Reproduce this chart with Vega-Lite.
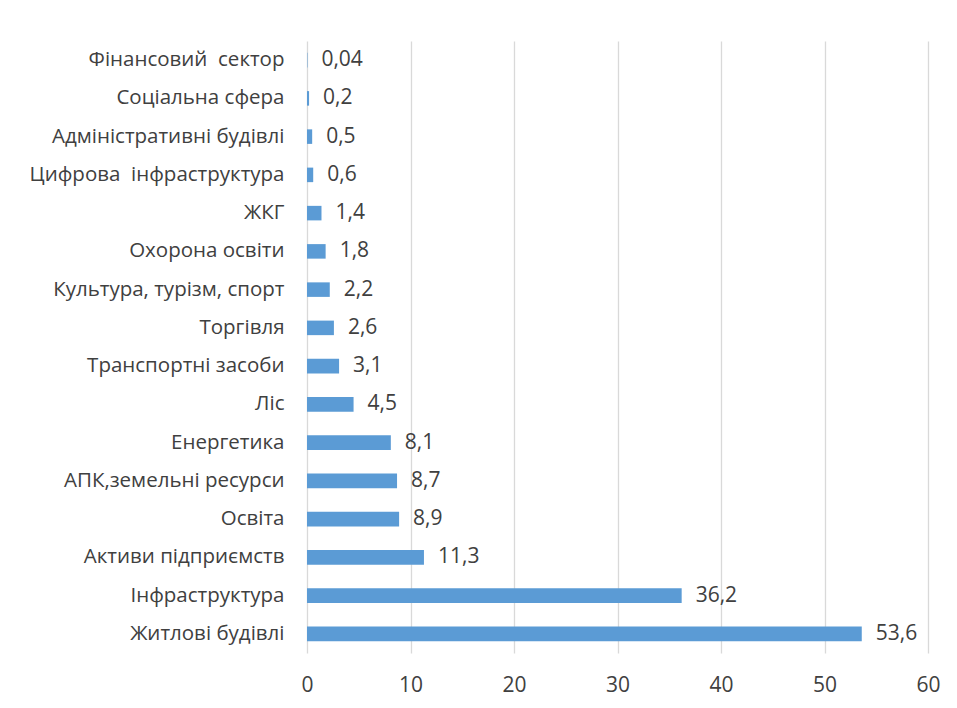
{
  "$schema": "https://vega.github.io/schema/vega-lite/v6.json",
  "width": 621,
  "height": 612,
  "autosize": "none",
  "padding": {"left": 307, "top": 41, "right": 29, "bottom": 55},
  "background": "white",
  "config": {
    "locale": {"number": {"decimal": ",", "thousands": " ", "grouping": [3], "currency": ["", ""]}},
    "view": {"stroke": null},
    "font": "Open Sans"
  },
  "data": {
    "values": [
      {"sector": "Фінансовий\u00a0 сектор", "value": 0.04},
      {"sector": "Соціальна сфера", "value": 0.2},
      {"sector": "Адміністративні будівлі", "value": 0.5},
      {"sector": "Цифрова\u00a0 інфраструктура", "value": 0.6},
      {"sector": "ЖКГ", "value": 1.4},
      {"sector": "Охорона освіти", "value": 1.8},
      {"sector": "Культура, турізм, спорт", "value": 2.2},
      {"sector": "Торгівля", "value": 2.6},
      {"sector": "Транспортні засоби", "value": 3.1},
      {"sector": "Ліс", "value": 4.5},
      {"sector": "Енергетика", "value": 8.1},
      {"sector": "АПК,земельні ресурси", "value": 8.7},
      {"sector": "Освіта", "value": 8.9},
      {"sector": "Активи підприємств", "value": 11.3},
      {"sector": "Інфраструктура", "value": 36.2},
      {"sector": "Житлові будівлі", "value": 53.6}
    ]
  },
  "encoding": {
    "y": {
      "field": "sector", "type": "nominal", "sort": null,
      "scale": {"paddingInner": 0.62, "paddingOuter": 0.31},
      "axis": {"title": null, "domain": false, "ticks": false, "labelPadding": 23, "labelFontSize": 20.5, "labelColor": "#404040", "labelFont": "Open Sans", "labelLimit": 400}
    },
    "x": {
      "field": "value", "type": "quantitative",
      "scale": {"domain": [0, 60], "nice": false},
      "axis": {"title": null, "values": [0, 10, 20, 30, 40, 50, 60], "domain": false, "ticks": false, "grid": true, "gridColor": "#D9D9D9", "gridWidth": 1.3, "labelPadding": 21, "labelFontSize": 21, "labelColor": "#404040", "labelFont": "Open Sans", "labelFlush": false}
    }
  },
  "layer": [
    {"mark": {"type": "bar", "color": "#5B9BD5"}},
    {
      "mark": {"type": "text", "align": "left", "dx": 14, "fontSize": 21, "color": "#404040", "font": "Open Sans"},
      "encoding": {"text": {"field": "value", "type": "quantitative", "format": ".2~f"}}
    }
  ]
}
